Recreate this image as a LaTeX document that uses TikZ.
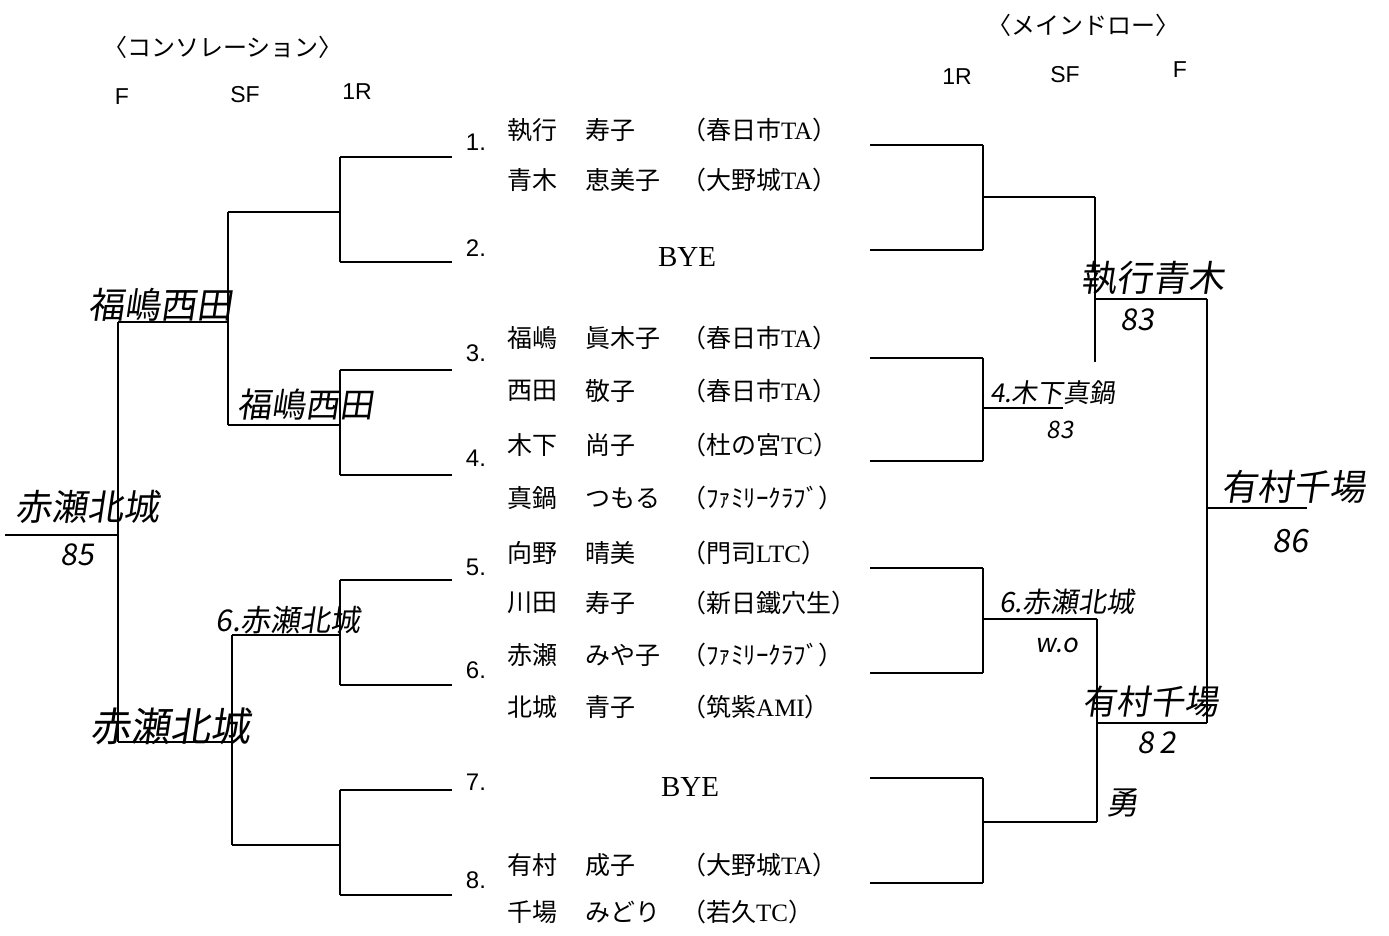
\documentclass[tikz,border=0pt]{standalone}
\usepackage{fontspec}
\setmainfont{Liberation Serif}
\newfontfamily\jp{Noto Sans CJK JP}
\newfontfamily\handjp[FakeSlant=0.15]{Noto Sans CJK JP}
\newfontfamily\arial{Liberation Sans}
\newcommand\lat[1]{{\rmfamily #1}}

\tikzset{
  bracket/.style={line width=1.5pt},
  title/.style={font=\jp\fontsize{24}{24}\selectfont, inner sep=0pt},
  roundlabel/.style={font=\arial\fontsize{23}{23}\selectfont, inner sep=0pt},
  seed/.style={font=\arial\fontsize{24}{24}\selectfont, inner sep=0pt},
  player/.style={font=\jp\fontsize{25}{25}\selectfont, anchor=west, inner sep=0pt},
  bye/.style={font=\rmfamily\fontsize{29}{29}\selectfont, inner sep=0pt},
  hand/.style={font=\handjp\fontsize{#1}{#1}\selectfont, inner sep=0pt},
  hand/.default=34
}

\begin{document}
\begin{tikzpicture}[x=1pt,y=-1pt]
\useasboundingbox (0,0) rectangle (1389,936);

% headings
\node[title] (ctitle) at (223,47) {〈コンソレーション〉};
\node[title] (mtitle) at (1083,25) {〈メインドロー〉};
\node[roundlabel] (cF) at (122,97) {F};
\node[roundlabel] (cSF) at (245,95) {SF};
\node[roundlabel] (c1R) at (357,92) {1R};
\node[roundlabel] (m1R) at (957,77) {1R};
\node[roundlabel] (mSF) at (1065,75) {SF};
\node[roundlabel] (mF) at (1180,70) {F};

% draw positions and players
\foreach \i/\y in {1/142,2/248,3/353,4/458,5/567,6/670,7/782,8/880}
  \node[seed] (seed\i) at (476,\y) {\i.};
\foreach \i/\y/\sur/\giv/\club in {
  1/130/執行/寿子/（春日市\lat{TA}）,
  2/180/青木/恵美子/（大野城\lat{TA}）,
  3/338/福嶋/眞木子/（春日市\lat{TA}）,
  4/391/西田/敬子/（春日市\lat{TA}）,
  5/445/木下/尚子/（杜の宮\lat{TC}）,
  6/498/真鍋/つもる/（ﾌｧﾐﾘｰｸﾗﾌﾞ）,
  7/553/向野/晴美/（門司\lat{LTC}）,
  8/603/川田/寿子/（新日鐵穴生）,
  9/655/赤瀬/みや子/（ﾌｧﾐﾘｰｸﾗﾌﾞ）,
  10/707/北城/青子/（筑紫\lat{AMI}）,
  11/865/有村/成子/（大野城\lat{TA}）,
  12/912/千場/みどり/（若久\lat{TC}）}
{
  \node[player] (sur\i) at (507,\y) {\sur};
  \node[player] (giv\i) at (585,\y) {\giv};
  \node[player] (club\i) at (681,\y) {\club};
}
\node[bye] (bye2) at (687,257) {BYE};
\node[bye] (bye7) at (690,787) {BYE};

% first round lines
\foreach \i/\my/\cy in {1/145/157,2/250/262,3/358/370,4/461/475,5/568/580,6/673/685,7/778/790,8/883/895}
{
  \coordinate (ma\i) at (870,\my);
  \coordinate (mb\i) at (983,\my);
  \coordinate (ca\i) at (452,\cy);
  \coordinate (cb\i) at (340,\cy);
  \draw[bracket] (ma\i) -- (mb\i);
  \draw[bracket] (ca\i) -- (cb\i);
}

% main draw
\coordinate (mq1) at (1095,197);
\coordinate (mq2) at (1063,408);
\coordinate (mq3) at (1097,619);
\coordinate (mq4) at (1097,822);
\foreach \a/\b/\q in {1/2/1,3/4/2,5/6/3,7/8/4}
{
  \draw[bracket] (mb\a) -- (mb\b);
  \draw[bracket] (mq\q -| mb\a) -- (mq\q);
}
\coordinate (ms1) at (1207,299);
\coordinate (ms2) at (1207,723);
\coordinate (mgap) at (1095,362);
\draw[bracket] (mq1) -- (mgap);
\draw[bracket] (ms1 -| mq1) -- (ms1);
\draw[bracket] (mq3) -- (mq4);
\draw[bracket] (ms2 -| mq3) -- (ms2);
\coordinate (mf) at (1307,508);
\draw[bracket] (ms1) -- (ms2);
\draw[bracket] (mf -| ms1) -- (mf);

% consolation
\coordinate (cq1) at (228,212);
\coordinate (cq2) at (228,425);
\coordinate (cq3) at (232,635);
\coordinate (cq4) at (232,845);
\foreach \a/\b/\q in {1/2/1,3/4/2,5/6/3,7/8/4}
{
  \draw[bracket] (cb\a) -- (cb\b);
  \draw[bracket] (cq\q -| cb\a) -- (cq\q);
}
\coordinate (cs1) at (118,322);
\coordinate (cs2) at (118,742);
\draw[bracket] (cq1) -- (cq2);
\draw[bracket] (cs1 -| cq1) -- (cs1);
\draw[bracket] (cq3) -- (cq4);
\draw[bracket] (cs2 -| cq3) -- (cs2);
\coordinate (cf) at (5,535);
\draw[bracket] (cs1) -- (cs2);
\draw[bracket] (cf -| cs1) -- (cf);

% handwritten results
\node[hand=36] (cwin1) at (160,305) {福嶋西田};
\node[hand=34] (cwin2) at (305,405) {福嶋西田};
\node[hand=30] (cwin3) at (288,620) {6.赤瀬北城};
\node[hand=40] (cwin4) at (170,726) {赤瀬北城};
\node[hand=36] (cchamp) at (87,507) {赤瀬北城};
\node[hand=30] (cscore) at (77,555) {85};

\node[hand=36] (mwin1) at (1152,278) {執行青木};
\node[hand=30] (mscore1) at (1137,320) {83};
\node[hand=26] (mwin2) at (1053,393) {4.木下真鍋};
\node[hand=24] (mscore2) at (1060,430) {83};
\node[hand=28] (mwin3) at (1067,602) {6.赤瀬北城};
\node[hand=26] (mscore3) at (1057,645) {w.o};
\node[hand=34] (mwin4) at (1150,702) {有村千場};
\node[hand=30] (mscore4) at (1157,743) {8\,2};
\node[hand=32] (mnote4) at (1122,803) {勇};
\node[hand=36] (mchamp) at (1293,487) {有村千場};
\node[hand=32] (mscore) at (1290,541) {86};
\end{tikzpicture}
\end{document}
